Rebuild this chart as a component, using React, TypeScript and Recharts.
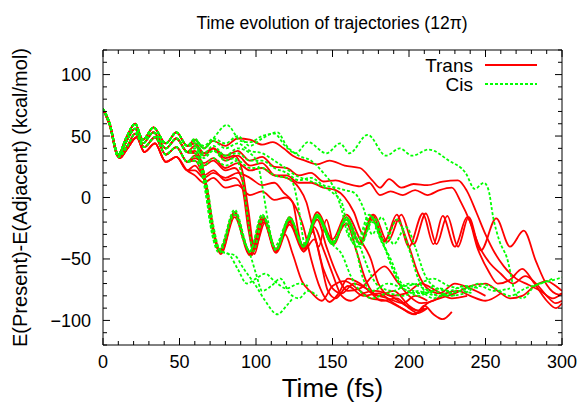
import { Legend, Line, LineChart, XAxis, YAxis } from "recharts"

type Pt = [number, number]

const FONT = "'Liberation Sans', Arial, sans-serif"
const RED = "#ff0000"
const GREEN = "#00ff00"
const AXIS = "#000000"

const xTicks = [0, 10, 20, 30, 40, 50, 60, 70, 80, 90, 100, 110, 120, 130, 140, 150, 160, 170, 180, 190, 200, 210, 220, 230, 240, 250, 260, 270, 280, 290, 300]
const yTicks = [-120, -110, -100, -90, -80, -70, -60, -50, -40, -30, -20, -10, 0, 10, 20, 30, 40, 50, 60, 70, 80, 90, 100, 110, 120]
const xLabels = [0, 50, 100, 150, 200, 250, 300]
const yLabels = [-100, -50, 0, 50, 100]

// common start of the trajectories (four slightly different bands)
const pre1: Pt[] = [[0, 72], [4, 62], [10, 35], [15, 48], [21, 60], [26, 47], [33, 57], [41, 44], [48, 53], [55, 42]]
const pre2: Pt[] = [[0, 72], [4, 61], [10, 34], [15, 45], [21, 56], [26, 44], [33, 53], [41, 40], [48, 48], [55, 37]]
const pre3: Pt[] = [[0, 72], [4, 61], [10, 33], [16, 42], [21, 52], [27, 41], [34, 49], [41, 35], [48, 41], [55, 29]]
const pre4: Pt[] = [[0, 72], [4, 60], [11, 32], [16, 40], [22, 49], [27, 37], [34, 44], [41, 29], [48, 33], [55, 22]]

// Trans
const trans1: Pt[] = [...pre1, [60, 47], [66, 40], [72, 46], [80, 42], [88, 48], [96, 47], [104, 43], [111, 45], [118, 40], [124, 34], [132, 30], [140, 27], [148, 30], [158, 26], [168, 24], [176, 14], [181, 8], [187, 15], [195, 8], [203, 11], [212, 10], [222, 13], [232, 14], [238, 5], [244, -12], [250, -30], [256, -45], [262, -56], [270, -66], [278, -71], [286, -76], [294, -82], [300, -78]]
const trans2: Pt[] = [...pre2, [60, 42], [66, 34], [72, 40], [80, 34], [88, 38], [96, 30], [104, 33], [112, 25], [120, 24], [128, 18], [136, 20], [144, 13], [152, 14], [160, 11], [168, 9], [174, 12], [181, 2], [188, 5], [196, 2], [204, 6], [212, 2], [220, 6], [228, 8], [234, -4], [240, -20], [246, -40], [252, -52], [260, -62], [268, -70], [276, -64], [283, -70], [290, -80], [296, -86], [300, -84]]
const trans3: Pt[] = [...pre3, [60, 34], [66, 26], [72, 30], [80, 22], [86, 24], [91, 14], [95, -18], [98, -44], [105, -16], [113, -43], [122, -20], [131, -41], [140, -16], [150, -38], [159, -18], [168, -38], [177, -14], [186, -36], [195, -14], [203, -38], [211, -13], [218, -38], [225, -15], [232, -40], [239, -16], [247, -43], [257, -17], [266, -40], [275, -27], [283, -52], [290, -71], [298, -79], [300, -78]]
const trans4: Pt[] = [...pre3, [60, 32], [64, 28], [67, 12], [71, -20], [76, -44], [86, -12], [96, -46], [104, -16], [113, -43], [122, -19], [131, -40], [137, -28], [142, -50], [147, -76], [152, -82], [160, -72], [170, -80], [180, -78], [190, -86], [198, -92], [204, -95], [210, -88], [216, -95], [222, -99], [228, -93]]
const trans5: Pt[] = [...pre2, [60, 38], [64, 30], [67, 12], [71, -22], [77, -45], [86, -14], [96, -44], [105, -18], [113, -42], [122, -18], [131, -39], [140, -15], [150, -37], [159, -21], [166, -45], [172, -68], [180, -80], [190, -76], [200, -88], [206, -92], [212, -86], [220, -82], [230, -78], [240, -72], [250, -70], [258, -76], [266, -82], [274, -80], [282, -72], [290, -68], [296, -72], [300, -76]]
const trans6: Pt[] = [...pre4, [60, 26], [66, 18], [72, 22], [80, 14], [86, 16], [91, 8], [95, -26], [99, -46], [105, -18], [113, -44], [119, -30], [124, -46], [130, -68], [136, -77], [143, -84], [150, -72], [158, -68], [166, -74], [175, -82], [185, -84], [195, -90], [203, -95], [210, -90]]
const trans7: Pt[] = [...pre4, [60, 18], [66, 12], [72, 16], [80, 8], [88, 10], [96, 2], [104, 5], [112, -2], [120, 0], [126, -8], [131, -24], [136, -50], [142, -74], [148, -85], [154, -78], [160, -66], [168, -70], [176, -78], [186, -82], [196, -86], [204, -80], [212, -84]]
const trans8: Pt[] = [...pre1, [60, 44], [66, 36], [72, 40], [80, 30], [88, 34], [96, 26], [104, 28], [112, 18], [120, 16], [128, 8], [133, -4], [137, -24], [141, -40], [146, -18], [151, -38], [159, -16], [168, -37], [176, -14], [184, -35], [192, -18], [200, -40], [206, -62], [212, -74], [220, -78], [230, -70], [240, -74], [250, -80]]
const trans9: Pt[] = [...pre2, [60, 36], [66, 28], [72, 32], [80, 24], [88, 28], [96, 22], [104, 24], [112, 18], [120, 18], [128, 12], [136, 12], [144, 8], [152, 6], [158, 0], [164, -12], [170, -30], [176, -18], [184, -36], [192, -14], [200, -40], [209, -13], [216, -38], [222, -15], [230, -40], [238, -16], [245, -42], [252, -60], [258, -70], [266, -67], [274, -58], [282, -70], [290, -84], [296, -90], [300, -86]]
const trans10: Pt[] = [...pre3, [60, 30], [64, 22], [68, 4], [72, -26], [77, -44], [86, -12], [93, -38], [97, -47], [105, -17], [113, -44], [122, -20], [131, -42], [140, -18], [146, -40], [152, -60], [160, -76], [168, -74], [176, -64], [184, -56], [192, -68], [200, -80], [208, -86], [216, -84], [224, -78], [232, -76], [240, -80], [250, -84], [260, -78]]
const trans11: Pt[] = [...pre4, [60, 22], [66, 16], [72, 20], [80, 16], [88, 20], [96, 16], [104, 10], [112, 12], [118, 4], [124, -4], [128, -30], [131, -44], [138, -24], [144, -42], [150, -62], [156, -80], [162, -84], [170, -78], [178, -76], [188, -80], [198, -88], [206, -92], [212, -90]]
const trans12: Pt[] = [...pre2, [60, 36], [64, 26], [68, 8], [72, -24], [77, -46], [86, -16], [96, -47], [105, -20], [113, -45], [122, -22], [131, -44], [138, -34], [144, -58], [150, -74], [156, -78], [164, -70], [172, -74], [182, -84], [192, -82], [200, -90], [206, -94], [212, -90]]
const trans13: Pt[] = [...pre1, [60, 44], [66, 36], [72, 40], [80, 32], [86, 34], [91, 22], [95, -10], [99, -42], [106, -20], [113, -42], [122, -16], [131, -40], [140, -12], [150, -34], [159, -14], [168, -34], [175, -50], [180, -70], [188, -80], [198, -78], [208, -70], [218, -76], [228, -82], [238, -80]]

// Cis
const cis1: Pt[] = [...pre1, [60, 47], [66, 40], [72, 48], [81, 59], [90, 46], [96, 45], [104, 50], [112, 52], [119, 42], [126, 36], [134, 45], [146, 36], [155, 44], [161, 36], [173, 51], [185, 34], [194, 40], [202, 34], [213, 39], [226, 30], [237, 20], [243, 7], [249, 12], [252, 6], [255, -16], [259, -35], [264, -49], [270, -79], [274, -82], [283, -71], [292, -68], [300, -65]]
const cis2: Pt[] = [...pre1, [60, 44], [64, 32], [67, 12], [71, -20], [76, -42], [86, -10], [96, -44], [104, -14], [113, -42], [122, -17], [131, -38], [140, -14], [150, -36], [159, -18], [165, -40], [170, -66], [176, -76], [186, -70], [196, -74], [206, -80], [216, -76], [226, -80], [236, -78], [246, -72], [256, -76], [266, -74]]
const cis3: Pt[] = [...pre3, [60, 30], [64, 24], [67, 8], [70, -20], [74, -40], [80, -45], [86, -47], [92, -58], [100, -72], [106, -84], [114, -95], [120, -88], [124, -82]]
const cis4: Pt[] = [...pre2, [60, 36], [64, 28], [68, 10], [72, -22], [77, -44], [82, -46], [88, -58], [94, -70], [100, -66], [106, -62], [112, -68], [120, -74], [128, -70], [134, -72]]
const cis5: Pt[] = [...pre3, [60, 30], [64, 22], [67, 4], [71, -28], [76, -45], [86, -14], [92, -36], [96, -46], [100, -62], [104, -76], [110, -72], [116, -66], [122, -78], [128, -82], [134, -76], [140, -80]]
const cis6: Pt[] = [...pre2, [60, 40], [63, 30], [66, 14], [70, -18], [76, -42], [86, -12], [96, -44], [104, -14], [113, -42], [122, -16], [131, -40], [140, -14], [150, -37], [159, -17], [168, -40], [174, -60], [180, -72], [190, -76], [200, -70], [210, -74], [220, -80], [230, -77], [240, -74]]
const cis7: Pt[] = [...pre1, [60, 42], [66, 32], [72, 38], [80, 30], [86, 32], [91, 16], [95, -20], [98, -44], [105, -16], [113, -43], [122, -18], [131, -40], [140, -15], [150, -38], [156, -46], [162, -64], [168, -76], [176, -82], [186, -78], [196, -80], [206, -76], [216, -82], [226, -76]]
const cis8: Pt[] = [...pre2, [60, 40], [66, 34], [72, 38], [80, 34], [88, 36], [96, 30], [104, 30], [112, 24], [120, 20], [128, 14], [136, 16], [144, 10], [152, 8], [158, 6], [164, 4], [170, -8], [176, -30], [182, -16], [190, -38], [198, -24], [204, -40], [210, -62], [216, -72], [226, -76], [236, -72], [246, -74]]
const cis9: Pt[] = [...pre1, [60, 46], [66, 36], [72, 42], [80, 34], [88, 40], [96, 36], [101, 28], [104, 10], [108, -20], [112, -40], [122, -17], [131, -40], [140, -16], [150, -38], [159, -18], [166, -36], [174, -14], [182, -36], [188, -50], [194, -68], [200, -74], [210, -78], [220, -74], [230, -80]]
const cis10: Pt[] = [...pre3, [60, 34], [66, 26], [72, 32], [80, 26], [88, 30], [96, 24], [104, 24], [112, 18], [120, 16], [124, 12], [128, -10], [132, -38], [140, -16], [150, -38], [159, -16], [168, -38], [177, -16], [184, -40], [190, -60], [196, -72], [206, -70], [216, -66], [226, -72], [236, -74], [246, -70], [256, -74], [266, -80], [276, -74], [286, -70], [294, -66]]
const cis11: Pt[] = [...pre1, [60, 48], [66, 40], [72, 46], [80, 40], [88, 44], [96, 38], [104, 36], [112, 30], [118, 25], [126, 18], [134, 14], [142, 10], [150, 4], [156, -4], [160, -26], [166, -40], [175, -15], [184, -38], [192, -18], [200, -42], [206, -66], [212, -78], [222, -80], [232, -76], [242, -78]]
const cis12: Pt[] = [...pre1, [60, 46], [66, 42], [72, 48], [80, 44], [88, 50], [96, 42], [104, 48], [114, 53], [120, 42], [128, 34], [136, 30], [144, 20], [150, 10], [156, -10], [160, -30], [168, -40], [176, -20], [184, -40], [190, -60], [196, -74], [206, -78], [216, -72]]

const transRuns = [trans1, trans2, trans3, trans4, trans5, trans6, trans7, trans8, trans9, trans10, trans11, trans12, trans13]
const cisRuns = [cis1, cis2, cis3, cis4, cis5, cis6, cis7, cis8, cis9, cis10, cis11, cis12]

const legendItems = [
  { name: "Trans", color: RED, dash: undefined },
  { name: "Cis", color: GREEN, dash: "3 2" },
]

const toPoints = (run: Pt[]) => run.map(([t, v]) => ({ t, v }))

const fmt = (v: number) => (v < 0 ? `\u2212${-v}` : `${v}`)

function BottomTick({ x, y, payload }: any) {
  const major = xLabels.includes(payload.value)
  return (
    <g>
      <line x1={x} x2={x} y1={y} y2={y - (major ? 7 : 4)} stroke={AXIS} />
      {major && (
        <text x={x} y={y + 23} textAnchor="middle" fontSize={18} fontFamily={FONT} fill="#000">
          {payload.value}
        </text>
      )}
    </g>
  )
}

function TopTick({ x, y, payload }: any) {
  const major = xLabels.includes(payload.value)
  return <line x1={x} x2={x} y1={y} y2={y + (major ? 7 : 4)} stroke={AXIS} />
}

function LeftTick({ x, y, payload }: any) {
  const major = yLabels.includes(payload.value)
  return (
    <g>
      <line x1={x} x2={x + (major ? 7 : 4)} y1={y} y2={y} stroke={AXIS} />
      {major && (
        <text x={x - 12} y={y + 6.5} textAnchor="end" fontSize={18} fontFamily={FONT} fill="#000">
          {fmt(payload.value)}
        </text>
      )}
    </g>
  )
}

function RightTick({ x, y, payload }: any) {
  const major = yLabels.includes(payload.value)
  return <line x1={x} x2={x - (major ? 7 : 4)} y1={y} y2={y} stroke={AXIS} />
}

function XTitle({ viewBox }: any) {
  return (
    <text x={viewBox.x + viewBox.width / 2} y={viewBox.y + 52} textAnchor="middle" fontSize={26} fontFamily={FONT} fill="#000">
      Time (fs)
    </text>
  )
}

function YTitle({ viewBox }: any) {
  const cx = viewBox.x - 75
  const cy = viewBox.y + viewBox.height / 2
  return (
    <text x={cx} y={cy} transform={`rotate(-90, ${cx}, ${cy})`} textAnchor="middle" fontSize={20} fontFamily={FONT} fill="#000">
      E(Present)-E(Adjacent) (kcal/mol)
    </text>
  )
}

function Header() {
  return (
    <svg width={582} height={100} style={{ display: "block" }}>
      <text x={332} y={29} textAnchor="middle" fontSize={17.5} fontFamily={FONT} fill="#000">
        Time evolution of trajectories (12π)
      </text>
      {legendItems.map((item, i) => (
        <g key={item.name}>
          <text x={473} y={72 + i * 19} textAnchor="end" fontSize={19} fontFamily={FONT} fill="#000">
            {item.name}
          </text>
          <line x1={485} x2={537} y1={65 + i * 19} y2={65 + i * 19} stroke={item.color} strokeWidth={1.8} strokeDasharray={item.dash} />
        </g>
      ))}
    </svg>
  )
}

export default function App() {
  return (
    <div style={{ position: "absolute", left: 0, top: 0, width: 582, height: 407, background: "#fff" }}>
      <LineChart width={582} height={407} margin={{ top: 49, right: 19, bottom: 61, left: 102 }}>
        <XAxis
          dataKey="t"
          type="number"
          domain={[0, 300]}
          ticks={xTicks}
          interval={0}
          height={1}
          tickSize={0}
          tickMargin={0}
          tick={BottomTick}
          axisLine={{ stroke: AXIS }}
          allowDataOverflow
          label={{ content: XTitle }}
        />
        <XAxis
          xAxisId="top"
          orientation="top"
          dataKey="t"
          type="number"
          domain={[0, 300]}
          ticks={xTicks}
          interval={0}
          height={1}
          tickSize={0}
          tickMargin={0}
          tick={TopTick}
          axisLine={{ stroke: AXIS }}
          allowDataOverflow
        />
        <YAxis
          type="number"
          domain={[-120, 120]}
          ticks={yTicks}
          interval={0}
          width={1}
          tickSize={0}
          tickMargin={0}
          tick={LeftTick}
          axisLine={{ stroke: AXIS }}
          allowDataOverflow
          label={{ content: YTitle }}
        />
        <YAxis
          yAxisId="right"
          orientation="right"
          type="number"
          domain={[-120, 120]}
          ticks={yTicks}
          interval={0}
          width={1}
          tickSize={0}
          tickMargin={0}
          tick={RightTick}
          axisLine={{ stroke: AXIS }}
          allowDataOverflow
        />
        <Legend verticalAlign="middle" align="center" wrapperStyle={{ left: 0, top: 0, width: 582, height: 100 }} content={Header} />
        {transRuns.map((run, i) => (
          <Line
            key={`trans${i}`}
            data={toPoints(run)}
            dataKey="v"
            type="monotone"
            stroke={RED}
            strokeWidth={1.8}
            dot={false}
            isAnimationActive={false}
          />
        ))}
        {cisRuns.map((run, i) => (
          <Line
            key={`cis${i}`}
            data={toPoints(run)}
            dataKey="v"
            type="monotone"
            stroke={GREEN}
            strokeWidth={1.8}
            strokeDasharray="3 2"
            dot={false}
            isAnimationActive={false}
          />
        ))}
      </LineChart>
    </div>
  )
}
